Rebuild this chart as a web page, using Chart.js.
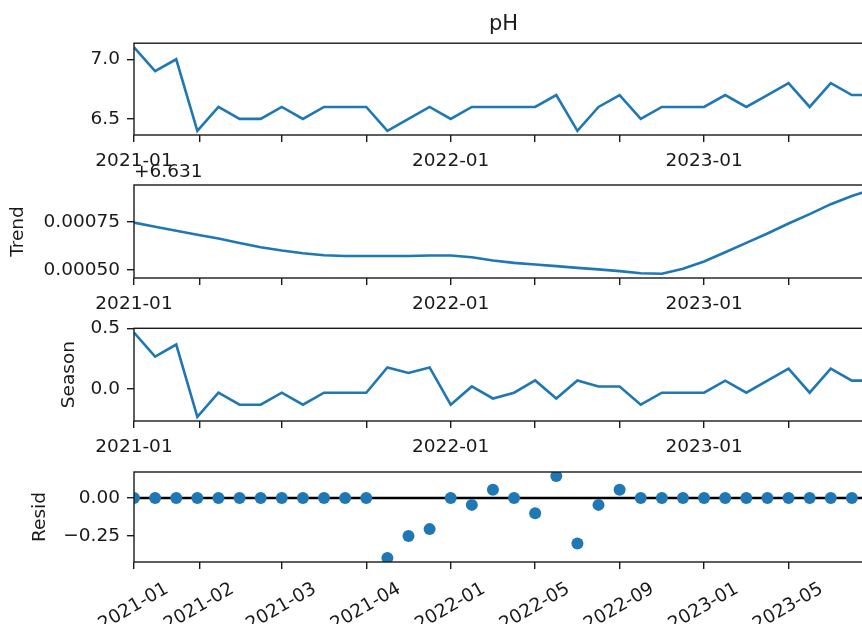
<!DOCTYPE html>
<html>
<head>
<meta charset="utf-8">
<script src="https://cdn.jsdelivr.net/npm/chart.js@4/dist/chart.umd.min.js"></script>
<style>
  html, body { margin: 0; padding: 0; background: #fff; width: 862px; height: 624px; overflow: hidden; }
  #fig { position: relative; width: 862px; height: 624px; overflow: hidden; }
  #fig canvas { position: absolute; left: 0; }
</style>
</head>
<body>
<div id="fig">
  <canvas id="phPanel" width="885" height="175" style="top:0px"></canvas>
  <canvas id="trendPanel" width="885" height="178" style="top:140px"></canvas>
  <canvas id="seasonPanel" width="885" height="161" style="top:300px"></canvas>
  <canvas id="residPanel" width="885" height="192" style="top:440px"></canvas>
</div>
<script>
// Monthly pH readings and their decomposition (observed / trend / seasonal / residual)
const pH = [7.1, 6.9, 7.0, 6.4, 6.6, 6.5, 6.5, 6.6, 6.5, 6.6, 6.6, 6.6,
            6.4, 6.5, 6.6, 6.5, 6.6, 6.6, 6.6, 6.6, 6.7, 6.4, 6.6, 6.7,
            6.5, 6.6, 6.6, 6.6, 6.7, 6.6, 6.7, 6.8, 6.6, 6.8, 6.7, 6.7];

const trend = [6.631746, 6.631724, 6.631703, 6.631683, 6.631663, 6.631640,
               6.631617, 6.631600, 6.631586, 6.631576, 6.631572, 6.631572,
               6.631572, 6.631572, 6.631574, 6.631574, 6.631565, 6.631548,
               6.631536, 6.631527, 6.631519, 6.631510, 6.631502, 6.631493,
               6.631482, 6.631479, 6.631505, 6.631543, 6.631591, 6.631640,
               6.631689, 6.631741, 6.631790, 6.631842, 6.631885, 6.631920];

const season = [0.468, 0.268, 0.368, -0.232, -0.032, -0.132, -0.132, -0.032, -0.132, -0.032, -0.032, -0.032,
                0.178, 0.132, 0.178, -0.132, 0.020, -0.080, -0.032, 0.070, -0.080, 0.070, 0.020, 0.020,
                -0.132, -0.032, -0.032, -0.032, 0.068, -0.032, 0.068, 0.168, -0.032, 0.168, 0.068, 0.068];

const resid = [0, 0, 0, 0, 0, 0, 0, 0, 0, 0, 0, 0,
               -0.395, -0.250, -0.205, 0, -0.045, 0.055, 0, -0.100, 0.145, -0.300, -0.045, 0.055,
               0, 0, 0, 0, 0, 0, 0, 0, 0, 0, 0, 0];

// Offset shown above the trend axis
const trendOffset = 6.631;
const trendOffsetLabel = '+6.631';

// Shared x ticks (sample index positions) and their labels
const xTickPositions = [0, 3.1, 7, 11, 15, 19, 23, 27, 31];
const xTickLabels = ['2021-01', '2021-02', '2021-03', '2021-04', '2022-01', '2022-05', '2022-09', '2023-01', '2023-05'];
const sharedXTickLabels = ['2021-01', '', '', '', '2022-01', '', '', '2023-01', ''];

// y ticks per panel
const phTicks = [6.5, 7.0];
const trendTicks = [0.0005, 0.00075];
const seasonTicks = [0, 0.5];
const residTicks = [-0.25, 0];

const BLUE = '#1f77b4';
const INK = '#1a1a1a';
const FAMILY = '"DejaVu Sans", sans-serif';
const TICK_FONT = { family: FAMILY, size: 18.5 };
const X_MIN = 0;
const X_MAX = pH.length - 1;

// autoscale with a 5% margin on each side
function paddedRange(values, frac = 0.05) {
  const lo = Math.min(...values);
  const hi = Math.max(...values);
  const m = (hi - lo) * frac;
  return { min: lo - m, max: hi + m };
}
const toPoints = (values, shift = 0) => values.map((v, i) => ({ x: i, y: v - shift }));
const fmt = digits => v => v.toFixed(digits).replace('-', '\u2212');

// box around each plotting area
const framePlugin = {
  id: 'frame',
  afterDraw(chart) {
    const { ctx, chartArea: a } = chart;
    ctx.save();
    ctx.strokeStyle = INK;
    ctx.lineWidth = 1.4;
    ctx.strokeRect(a.left, a.top, a.right - a.left, a.bottom - a.top);
    ctx.restore();
  }
};

const tickMarks = { drawOnChartArea: false, drawTicks: true, tickLength: 7, color: INK, lineWidth: 1.4 };

function lineSeries(values, shift = 0) {
  return {
    data: toPoints(values, shift),
    borderColor: BLUE,
    borderWidth: 2.6,
    pointRadius: 0,
    tension: 0,
    fill: false,
    clip: 0
  };
}

function panel(id, p) {
  const range = paddedRange(p.rangeValues);
  return new Chart(document.getElementById(id), {
    type: 'line',
    data: { datasets: p.datasets },
    options: {
      responsive: false,
      animation: false,
      events: [],
      layout: { padding: { top: p.padTop || 0, right: 12, left: 0, bottom: 0 } },
      plugins: {
        legend: { display: false },
        tooltip: { enabled: false },
        title: p.title || { display: false }
      },
      scales: {
        x: {
          type: 'linear',
          min: X_MIN,
          max: X_MAX,
          afterBuildTicks: s => { s.ticks = xTickPositions.map(v => ({ value: v })); },
          afterFit: s => { s.height = p.xAxisHeight; },
          border: { display: false },
          grid: tickMarks,
          ticks: {
            autoSkip: false,
            minRotation: p.xRotation,
            maxRotation: p.xRotation,
            padding: p.xPadding,
            labelOffset: p.xLabelOffset || 0,
            font: TICK_FONT,
            color: INK,
            callback: (v, i) => p.xLabels[i]
          }
        },
        y: {
          min: range.min,
          max: range.max,
          afterBuildTicks: s => { s.ticks = p.yTicks.map(v => ({ value: v })); },
          afterFit: s => { s.width = 134; },
          border: { display: false },
          grid: tickMarks,
          ticks: { padding: 7, font: TICK_FONT, color: INK, callback: p.yFormat },
          title: p.yTitle
            ? { display: true, text: p.yTitle, font: TICK_FONT, color: INK, padding: { top: p.yTitlePad, bottom: 0 } }
            : { display: false }
        }
      }
    },
    plugins: [framePlugin]
  });
}

// Observed
panel('phPanel', {
  datasets: [lineSeries(pH)],
  rangeValues: pH,
  yTicks: phTicks,
  yFormat: fmt(1),
  xLabels: sharedXTickLabels,
  xRotation: 0,
  xPadding: 8,
  xAxisHeight: 40,
  title: {
    display: true, text: 'pH', fullSize: false, align: 'center', color: INK,
    font: { family: FAMILY, size: 21, weight: 'normal' },
    padding: { top: 12, bottom: 6 }
  }
});

// Trend (relative to offset)
panel('trendPanel', {
  datasets: [lineSeries(trend, trendOffset)],
  rangeValues: trend.map(v => v - trendOffset),
  yTicks: trendTicks,
  yFormat: fmt(5),
  yTitle: 'Trend',
  yTitlePad: 7,
  xLabels: sharedXTickLabels,
  xRotation: 0,
  xPadding: 8,
  xAxisHeight: 40,
  title: {
    display: true, text: trendOffsetLabel, fullSize: false, align: 'start', color: INK,
    font: { family: FAMILY, size: 18.5, weight: 'normal' },
    padding: { top: 20.6, bottom: 2.2 }
  }
});

// Seasonal
panel('seasonPanel', {
  datasets: [lineSeries(season)],
  rangeValues: season,
  yTicks: seasonTicks,
  yFormat: fmt(1),
  yTitle: 'Season',
  yTitlePad: 58,
  xLabels: sharedXTickLabels,
  xRotation: 0,
  xPadding: 8,
  xAxisHeight: 40,
  padTop: 28.3
});

// Residual
panel('residPanel', {
  datasets: [
    {
      data: toPoints(resid),
      showLine: false,
      pointRadius: 6,
      pointBackgroundColor: BLUE,
      pointBorderWidth: 0,
      borderColor: BLUE,
      clip: 0,
      order: 1
    },
    {
      data: [{ x: X_MIN, y: 0 }, { x: X_MAX, y: 0 }],
      borderColor: '#000',
      borderWidth: 2.4,
      pointRadius: 0,
      clip: 0,
      order: 2
    }
  ],
  rangeValues: resid,
  yTicks: residTicks,
  yFormat: fmt(2),
  yTitle: 'Resid',
  yTitlePad: 29,
  xLabels: xTickLabels,
  xRotation: 30,
  xPadding: 9,
  xLabelOffset: 33,
  xAxisHeight: 70,
  padTop: 32
});
</script>
</body>
</html>
